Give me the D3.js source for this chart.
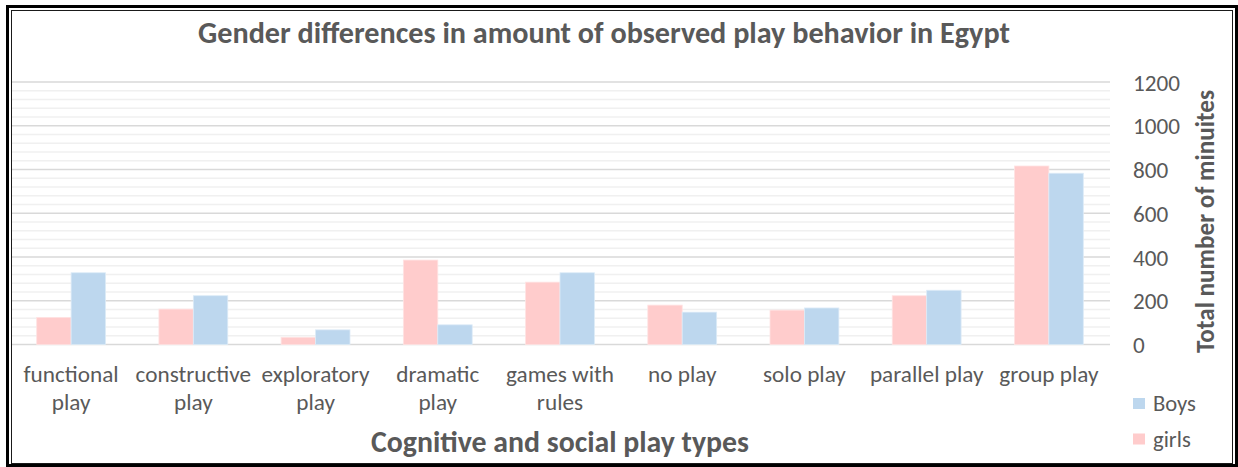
<!DOCTYPE html>
<html>
<head>
<meta charset="utf-8">
<script src="https://cdn.jsdelivr.net/npm/d3@7"></script>
<style>
  html, body { margin: 0; padding: 0; background: #fff; }
  svg { display: block; }
  text { font-family: Carlito, Calibri, Lato, "Open Sans", sans-serif; fill: #595959; }
</style>
</head>
<body>
<svg id="chart" width="1238" height="467"></svg>
<script>
const categories = [["functional","play"],["constructive","play"],["exploratory","play"],["dramatic","play"],["games with","rules"],["no play"],["solo play"],["parallel play"],["group play"]];
const girls = [124, 162, 33, 386, 285, 180, 157, 223, 816];
const boys  = [328, 223, 67, 90, 328, 148, 167, 248, 783];
const yTicks = [0, 200, 400, 600, 800, 1000, 1200];
const seriesNames = ["girls", "Boys"];
const legendOrder = ["Boys", "girls"];
const title = "Gender differences in amount of observed play behavior in Egypt";
const xTitle = "Cognitive and social play types";
const yTitle = "Total number of minuites";

const colors = { girls: "#FFCCCC", Boys: "#BDD7EE" };
const strokes = { girls: "#FFE3E3", Boys: "#DDEBF7" };

const svg = d3.select("#chart");
const W = 1238, H = 467;
svg.append("rect").attr("width", W).attr("height", H).attr("fill", "#fff");

// fit font size to a target width
function fit(sel, target) {
  sel.style("font-size", "20px");
  const w = sel.node().getComputedTextLength();
  sel.style("font-size", (20 * target / w).toFixed(2) + "px");
  return sel;
}

const keys = categories.map(c => c.join(" "));
const x = d3.scaleBand().domain(keys).range([10, 1110]).padding(0);
const y = d3.scaleLinear().domain([0, 1200]).range([344.5, 82]);

// gridlines
const minor = d3.range(0, 1201, 40).filter(v => v % 200 !== 0);
svg.append("g").selectAll("line").data(minor).join("line")
  .attr("x1", 11).attr("x2", 1110)
  .attr("y1", d => y(d)).attr("y2", d => y(d))
  .attr("stroke", "#F0F0F0").attr("stroke-width", 1.3);
svg.append("g").selectAll("line").data(yTicks).join("line")
  .attr("x1", 11).attr("x2", 1110)
  .attr("y1", d => y(d)).attr("y2", d => y(d))
  .attr("stroke", "#D9D9D9").attr("stroke-width", 1.3);

// bars
const barW = x.step() * 0.2817;
const data = [];
keys.forEach((k, i) => {
  data.push({ k, s: "girls", v: girls[i], off: -barW });
  data.push({ k, s: "Boys", v: boys[i], off: 0 });
});
svg.append("g").selectAll("rect").data(data).join("rect")
  .attr("x", d => x(d.k) + x.bandwidth() / 2 + d.off)
  .attr("y", d => y(d.v))
  .attr("width", barW)
  .attr("height", d => y(0) - y(d.v))
  .attr("fill", d => colors[d.s])
  .attr("stroke", d => strokes[d.s])
  .attr("stroke-width", 0.8);

// y axis (right), labels left-aligned
const yAxis = d3.axisRight(y).tickValues(yTicks).tickFormat(d3.format("d")).tickSize(0).tickPadding(0);
const ya = svg.append("g").attr("transform", "translate(1133,0)").call(yAxis);
ya.select(".domain").remove();
ya.selectAll("text")
  .attr("x", 0).attr("dy", "0.35em")
  .style("font-family", "Carlito, Calibri, Lato, sans-serif")
  .style("fill", "#595959")
  .attr("text-anchor", "start");
ya.selectAll("text").each(function () { fit(d3.select(this), this.textContent.length * 11.75); });

// x labels
const xl = svg.append("g");
categories.forEach((c, i) => {
  const cx = x(keys[i]) + x.bandwidth() / 2;
  const t = xl.append("text").attr("text-anchor", "middle").attr("x", cx).attr("y", 382);
  c.forEach((line, j) => {
    t.append("tspan").attr("x", cx).attr("y", 382 + j * 28).text(line);
  });
});
// fit x labels font using reference word
const probe = svg.append("text").text("games with");
fit(probe, 108);
const xSize = probe.style("font-size");
probe.remove();
xl.selectAll("text").style("font-size", xSize);

// title
fit(svg.append("text").attr("x", 604).attr("y", 43).attr("text-anchor", "middle")
  .style("font-weight", "bold").text(title), 812);

// x title
fit(svg.append("text").attr("x", 560).attr("y", 451.5).attr("text-anchor", "middle")
  .style("font-weight", "bold").text(xTitle), 378);

// y title
fit(svg.append("text").attr("transform", "translate(1214,221.5) rotate(-90)")
  .attr("text-anchor", "middle").style("font-weight", "bold").text(yTitle), 263);

// legend
const lprobe = svg.append("text").text("Boys");
fit(lprobe, 43);
const lSize = lprobe.style("font-size");
lprobe.remove();
const lg = svg.append("g");
legendOrder.forEach((name, i) => {
  const cy = 403.5 + i * 35.5;
  lg.append("rect").attr("x", 1133).attr("y", cy - 5.5).attr("width", 12).attr("height", 11)
    .attr("fill", colors[name]);
  lg.append("text").attr("x", 1153).attr("y", cy).attr("dy", "0.35em")
    .style("font-size", lSize).text(name);
});

// double border
svg.append("rect").attr("x", 7.5).attr("y", 6.5).attr("width", 1229).attr("height", 459)
  .attr("fill", "none").attr("stroke", "#000").attr("stroke-width", 3);
svg.append("rect").attr("x", 11.5).attr("y", 10.5).attr("width", 1221).attr("height", 453)
  .attr("fill", "none").attr("stroke", "#1a1a1a").attr("stroke-width", 1);
</script>
</body>
</html>
